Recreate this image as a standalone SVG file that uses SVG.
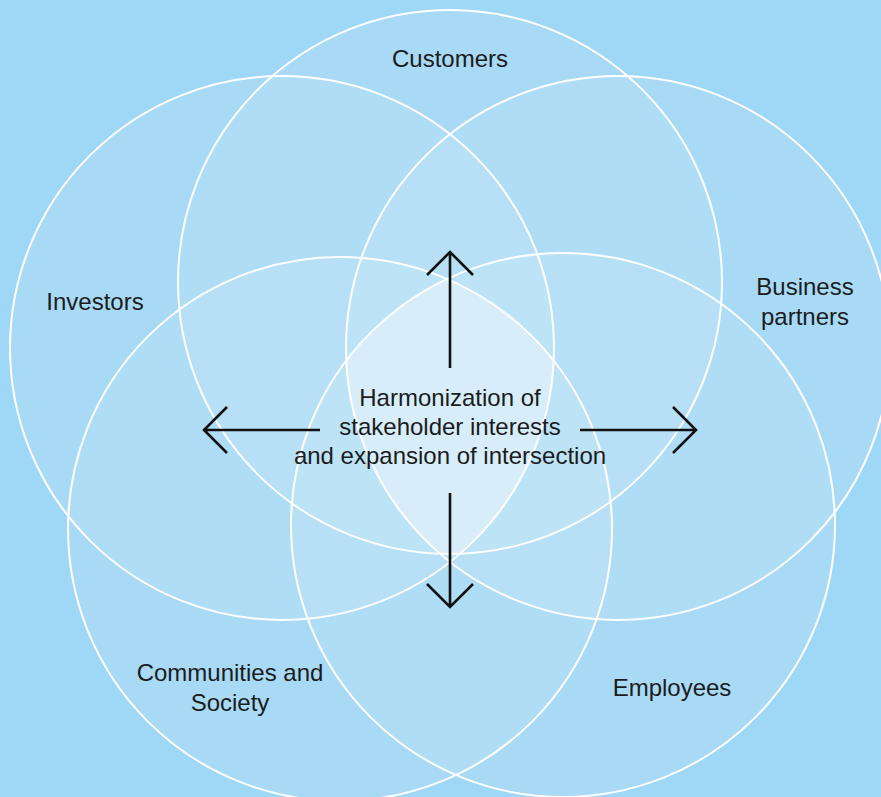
<svg xmlns="http://www.w3.org/2000/svg" width="881" height="797" viewBox="0 0 881 797">
<style>
.c{fill:#ffffff;fill-opacity:0.094;stroke:#ffffff;stroke-width:2}
.t{font-family:"Liberation Sans",Arial,sans-serif;font-size:24px;fill:#1c1c1c;text-anchor:middle}
.a{fill:none;stroke:#111111;stroke-width:2.6;stroke-linecap:butt;stroke-linejoin:miter}
</style>
<defs>
<clipPath id="k1"><circle cx="450" cy="282" r="272"/></clipPath>
<clipPath id="k2"><circle cx="282" cy="348" r="272"/></clipPath>
<clipPath id="k3"><circle cx="618" cy="348" r="272"/></clipPath>
<clipPath id="k4"><circle cx="340" cy="529" r="272"/></clipPath>
<clipPath id="k5"><circle cx="563" cy="525" r="272"/></clipPath>
</defs>
<rect width="881" height="797" fill="#9fd7f6"/>
<g id="core">
<g clip-path="url(#k1)"><g clip-path="url(#k2)"><g clip-path="url(#k3)"><g clip-path="url(#k4)"><g clip-path="url(#k5)">
<rect x="0" y="0" width="881" height="797" fill="#ffffff" fill-opacity="0.345"/>
</g></g></g></g></g>
</g>
<g id="customers"><circle class="c" cx="450" cy="282" r="272"/><text class="t" x="450" y="67">Customers</text></g>
<g id="investors"><circle class="c" cx="282" cy="348" r="272"/><text class="t" x="95" y="310">Investors</text></g>
<g id="business-partners"><circle class="c" cx="618" cy="348" r="272"/><text class="t" x="805" y="295">Business</text><text class="t" x="805" y="325">partners</text></g>
<g id="communities"><circle class="c" cx="340" cy="529" r="272"/><text class="t" x="230" y="681">Communities and</text><text class="t" x="230" y="711">Society</text></g>
<g id="employees"><circle class="c" cx="563" cy="525" r="272"/><text class="t" x="672" y="696">Employees</text></g>
<g id="center"><text class="t" x="450" y="406">Harmonization of</text><text class="t" x="450" y="435">stakeholder interests</text><text class="t" x="450" y="464">and expansion of intersection</text></g>
<g id="connectors">
<path class="a" d="M450 368V253M427 275L450 252L473 275"/>
<path class="a" d="M450 493V607M427 584L450 607L473 584"/>
<path class="a" d="M320 430H204M227 407L204 430L227 453"/>
<path class="a" d="M580 430H696M673 407L696 430L673 453"/>
</g>
</svg>
